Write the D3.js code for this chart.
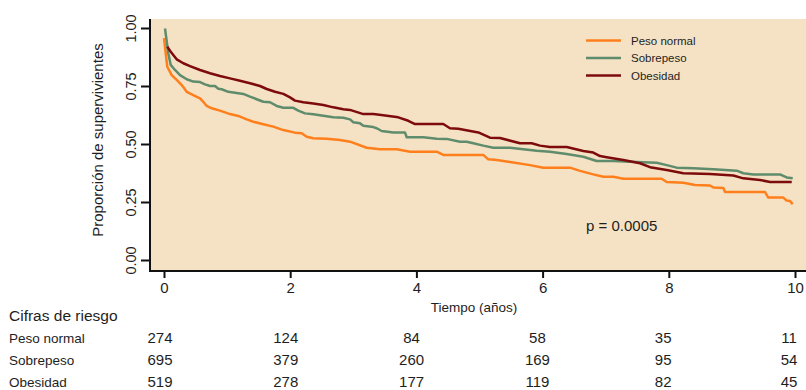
<!DOCTYPE html>
<html>
<head>
<meta charset="utf-8">
<script src="https://cdn.jsdelivr.net/npm/d3@7"></script>
<style>
  body { margin: 0; background: #fff; }
  svg { display: block; font-family: "Liberation Sans", Arial, sans-serif; }
</style>
</head>
<body>
<svg id="chart" width="806" height="390"></svg>
<script>
// ---- data ----
const groups = ["Peso normal", "Sobrepeso", "Obesidad"];
const colors = ["#ff7f1c", "#5f8c6c", "#7d0b0b"];

const tNormal = [0.00,0.052,0.122,0.201,0.281,0.360,0.464,0.571,0.623,0.677,0.756,0.887,1.046,1.177,1.311,1.415,1.574,1.732,1.891,2.076,2.182,2.261,2.366,2.578,2.789,2.948,3.212,3.423,3.688,3.899,4.322,4.426,5.060,5.139,5.273,5.483,5.800,6.011,6.434,6.593,6.803,6.962,7.120,7.279,7.887,7.967,8.230,8.415,8.653,8.705,8.864,8.891,9.525,9.577,9.815,9.868,9.921,9.964];
const sNormal = [0.956,0.833,0.797,0.776,0.754,0.725,0.711,0.697,0.682,0.664,0.654,0.644,0.629,0.621,0.606,0.596,0.585,0.575,0.560,0.549,0.546,0.531,0.525,0.523,0.517,0.510,0.484,0.477,0.477,0.467,0.467,0.453,0.453,0.434,0.431,0.422,0.409,0.398,0.398,0.384,0.369,0.359,0.359,0.350,0.350,0.336,0.333,0.323,0.321,0.313,0.310,0.293,0.293,0.269,0.269,0.256,0.254,0.241];

const tSobre = [0.016,0.068,0.106,0.174,0.254,0.360,0.464,0.571,0.650,0.729,0.808,0.861,0.914,1.019,1.125,1.257,1.363,1.469,1.574,1.680,1.786,1.891,2.049,2.128,2.235,2.366,2.525,2.683,2.842,2.948,3.000,3.106,3.159,3.317,3.371,3.450,3.634,3.819,3.846,4.109,4.322,4.480,4.691,4.797,4.902,5.060,5.219,5.483,5.694,5.906,6.117,6.382,6.645,6.857,7.120,7.385,7.808,7.967,8.125,8.389,8.705,9.076,9.181,9.339,9.762,9.868,9.964];
const sSobre = [0.998,0.891,0.841,0.819,0.797,0.779,0.769,0.767,0.757,0.750,0.750,0.738,0.736,0.725,0.721,0.716,0.704,0.693,0.682,0.680,0.664,0.656,0.656,0.644,0.632,0.628,0.622,0.615,0.613,0.606,0.594,0.589,0.579,0.573,0.568,0.556,0.550,0.550,0.529,0.529,0.523,0.522,0.510,0.510,0.503,0.493,0.484,0.484,0.477,0.471,0.467,0.457,0.445,0.427,0.427,0.424,0.419,0.409,0.398,0.395,0.391,0.385,0.374,0.369,0.369,0.356,0.352];

const tObes = [0.052,0.095,0.147,0.201,0.306,0.412,0.571,0.729,0.887,1.046,1.204,1.363,1.521,1.628,1.759,1.891,1.997,2.076,2.208,2.366,2.525,2.683,2.842,2.948,3.159,3.317,3.475,3.713,3.872,3.978,4.426,4.532,4.664,4.981,5.166,5.325,5.642,5.827,5.959,6.117,6.382,6.645,6.803,6.910,7.016,7.279,7.544,7.702,7.967,8.230,8.653,9.023,9.181,9.445,9.604,9.948];
const sObes = [0.920,0.902,0.884,0.865,0.848,0.836,0.819,0.805,0.793,0.783,0.773,0.762,0.750,0.737,0.725,0.716,0.701,0.687,0.680,0.675,0.668,0.658,0.650,0.647,0.629,0.629,0.624,0.615,0.600,0.586,0.586,0.568,0.566,0.550,0.527,0.526,0.503,0.503,0.493,0.487,0.487,0.470,0.463,0.448,0.443,0.431,0.417,0.400,0.388,0.374,0.371,0.364,0.352,0.345,0.336,0.336];

const xTicks = [0, 2, 4, 6, 8, 10];
const yTicks = [0, 0.25, 0.5, 0.75, 1];

const riskTimes = [0, 2, 4, 6, 8, 10];
const riskNormal = [274, 124, 84, 58, 35, 11];
const riskSobre  = [695, 379, 260, 169, 95, 54];
const riskObes   = [519, 278, 177, 119, 82, 45];

const pValue = "p = 0.0005";

// ---- layout ----
const panel = {left: 150, right: 806, top: 19, bottom: 271};
const textCol = "#1e1e1e";

const svg = d3.select("#chart");

const x = d3.scaleLinear().domain([0, 10]).range([164, 795]);
const y = d3.scaleLinear().domain([0, 1]).range([260, 28]);
const xTable = d3.scaleLinear().domain([0, 10]).range([160, 789]);

// panel background
svg.append("rect")
  .attr("x", panel.left).attr("y", panel.top)
  .attr("width", panel.right - panel.left)
  .attr("height", panel.bottom - panel.top)
  .attr("fill", "#f5e2c4");

// curves
const series = [
  {name: groups[0], t: tNormal, s: sNormal, color: colors[0]},
  {name: groups[1], t: tSobre,  s: sSobre,  color: colors[1]},
  {name: groups[2], t: tObes,   s: sObes,   color: colors[2]}
];

const line = d3.line()
  .x(d => x(d[0]))
  .y(d => y(d[1]));

svg.append("g").selectAll("path")
  .data(series)
  .join("path")
  .attr("d", d => line(d.t.map((t, i) => [t, d.s[i]])))
  .attr("fill", "none")
  .attr("stroke", d => d.color)
  .attr("stroke-width", 2.5)
  .attr("stroke-linejoin", "round");

// axes
const yAxis = svg.append("g")
  .attr("transform", "translate(" + panel.left + ",0)")
  .call(d3.axisLeft(y).tickValues(yTicks).tickFormat(d3.format(".2f")).tickSize(9).tickSizeOuter(0));
yAxis.select(".domain").remove();
yAxis.selectAll(".tick line").attr("stroke", "#111").attr("stroke-width", 2);
yAxis.selectAll(".tick text")
  .attr("x", 0).attr("y", -14).attr("dy", 0)
  .attr("transform", "rotate(-90)")
  .attr("text-anchor", "middle")
  .attr("font-size", 14.5)
  .attr("font-family", "Liberation Sans, Arial, sans-serif")
  .attr("fill", textCol);

const xAxis = svg.append("g")
  .attr("transform", "translate(0," + panel.bottom + ")")
  .call(d3.axisBottom(x).tickValues(xTicks).tickSize(7).tickPadding(4).tickSizeOuter(0));
xAxis.select(".domain").remove();
xAxis.selectAll(".tick line").attr("stroke", "#111").attr("stroke-width", 2);
xAxis.selectAll(".tick text")
  .attr("font-size", 15)
  .attr("font-family", "Liberation Sans, Arial, sans-serif")
  .attr("fill", textCol);

// spines
svg.append("line")
  .attr("x1", panel.left).attr("x2", panel.left)
  .attr("y1", panel.top).attr("y2", panel.bottom + 1)
  .attr("stroke", "#111").attr("stroke-width", 2);
svg.append("line")
  .attr("x1", panel.left - 1).attr("x2", panel.right)
  .attr("y1", panel.bottom).attr("y2", panel.bottom)
  .attr("stroke", "#111").attr("stroke-width", 2);

// axis titles
svg.append("text")
  .attr("transform", "translate(103,140) rotate(-90)")
  .attr("text-anchor", "middle")
  .attr("font-size", 15)
  .attr("fill", textCol)
  .text("Proporción de supervivientes");

svg.append("text")
  .attr("x", 474).attr("y", 312)
  .attr("text-anchor", "middle")
  .attr("font-size", 13.5)
  .attr("fill", textCol)
  .text("Tiempo (años)");

// legend
const legend = svg.append("g").attr("transform", "translate(586,40.5)");
const legItems = legend.selectAll("g")
  .data(series)
  .join("g")
  .attr("transform", (d, i) => "translate(0," + i * 17.5 + ")");
legItems.append("line")
  .attr("x1", 0).attr("x2", 35)
  .attr("stroke", d => d.color).attr("stroke-width", 2.5);
legItems.append("text")
  .attr("x", 45).attr("y", 4)
  .attr("font-size", 11.5)
  .attr("fill", textCol)
  .text(d => d.name);

// p value
svg.append("text")
  .attr("x", 586).attr("y", 231)
  .attr("font-size", 15)
  .attr("fill", textCol)
  .text(pValue);

// risk table
svg.append("text")
  .attr("x", 9).attr("y", 321)
  .attr("font-size", 15.5)
  .attr("fill", textCol)
  .text("Cifras de riesgo");

const riskRows = [riskNormal, riskSobre, riskObes];
const rowY = [342.5, 364.5, 386.5];

riskRows.forEach((row, r) => {
  svg.append("text")
    .attr("x", 9).attr("y", rowY[r])
    .attr("font-size", 13.5)
    .attr("fill", textCol)
    .text(groups[r]);
  svg.append("g").selectAll("text")
    .data(row)
    .join("text")
    .attr("x", (d, i) => xTable(riskTimes[i]))
    .attr("y", rowY[r])
    .attr("text-anchor", "middle")
    .attr("font-size", 15)
    .attr("fill", textCol)
    .text(d => d);
});
</script>
</body>
</html>
